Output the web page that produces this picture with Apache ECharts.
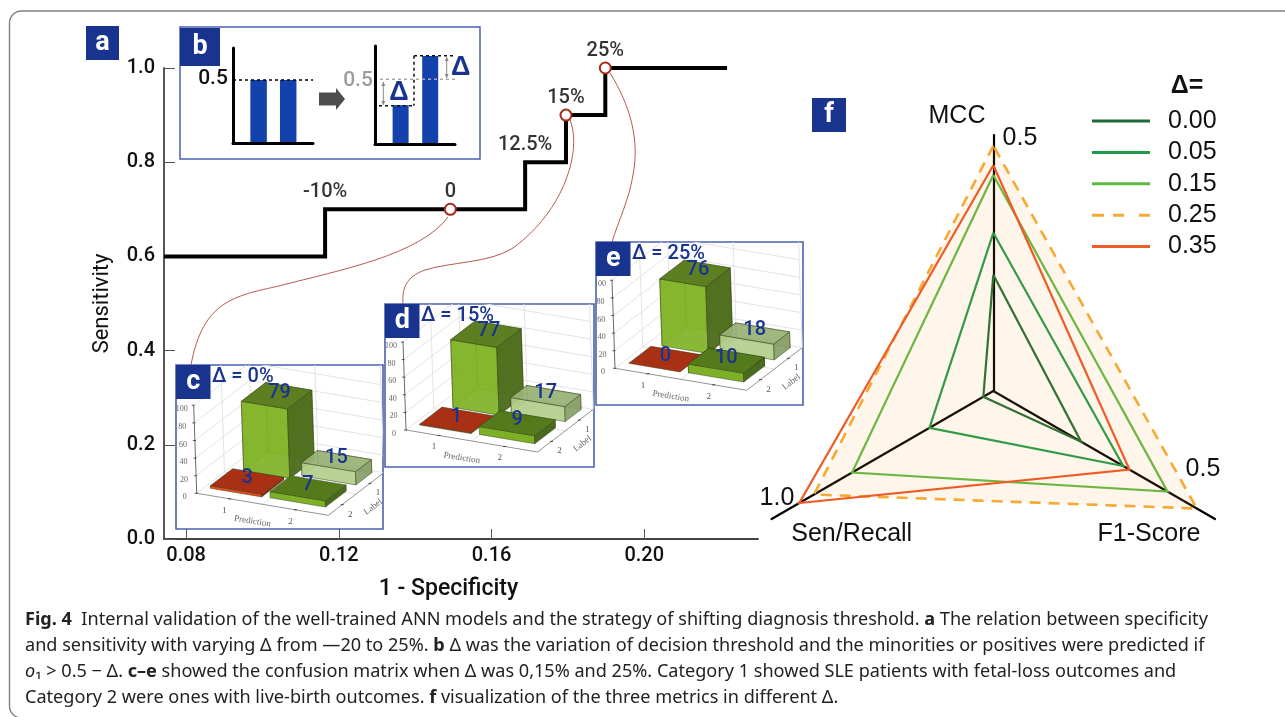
<!DOCTYPE html>
<html><head><meta charset="utf-8"><style>html,body{margin:0;padding:0;background:#fff}#c{width:1285px;height:717px}</style>
<script src="https://cdn.jsdelivr.net/npm/echarts@6/dist/echarts.min.js"></script></head><body><div id="c"></div>
<script>
// ---------- data ----------
const stepX = [0.0742, 0.1164, 0.1688, 0.1795, 0.1898, 0.2217];
const stepY = [0.6, 0.7, 0.8, 0.9, 1.0, 1.0];
const noteX = [0.1164, 0.1492, 0.1688, 0.1795, 0.1898];
const noteY = [0.7, 0.7, 0.8, 0.9, 1.0];
const noteText = ['-10%', '0', '12.5%', '15%', '25%'];
const markedX = [0.1492, 0.1795, 0.1898];
const markedY = [0.7, 0.9, 1.0];
const xTicks = [0.08, 0.12, 0.16, 0.20];
const barPositions = [0.32, 0.69];
const barsBefore = [0.5, 0.5];
const barsAfter = [0.3, 0.68];
const confusionC = [[1,1,79],[2,1,15],[1,2,3],[2,2,7]];
const confusionD = [[1,1,77],[2,1,17],[1,2,1],[2,2,9]];
const confusionE = [[1,1,76],[2,1,18],[1,2,0],[2,2,10]];
const radarAxes = ['MCC', 'Sen/Recall', 'F1-Score'];
const radarMax = [0.5, 1.0, 0.5];
const deltas = ['0.00', '0.05', '0.15', '0.25', '0.35'];
const radar000 = [0.227, 0.045, 0.198];
const radar005 = [0.309, 0.288, 0.293];
const radar015 = [0.422, 0.637, 0.393];
const radar025 = [0.479, 0.809, 0.459];
const radar035 = [0.441, 0.875, 0.307];

// ---------- style ----------
const NAVY = '#19348f', BORDER = '#4a62ad', INK = '#111';
const din = 'Roboto';
const barStyle = {
  big:  {front:'rgba(127,178,38,0.92)', side:'rgba(76,108,28,0.96)', top:'rgba(90,124,30,0.97)', inner:'rgba(150,195,50,0.55)', u:[0.22,0.92], v:[1.17,2.05]},
  pale: {front:'rgba(176,204,136,0.9)', side:'rgba(132,156,100,0.9)', top:'rgba(150,176,116,0.88)', inner:'rgba(170,196,130,0.5)', u:[1.03,1.85], v:[1.35,1.92]},
  red:  {front:'#ee4a1a', side:'#9c2c12', top:'#a83115', inner:'#a83115', u:[0.09,0.87], v:[0.28,1.08]},
  green:{front:'#7eb027', side:'#4b6b1c', top:'#557a1c', inner:'#557a1c', u:[0.99,1.83], v:[0.30,1.05]}
};
const panels = [
  {name:'c', x:176, y:365, w:207, h:164, ox:20.7, oy:128.3, title:'Δ = 0%',  data:confusionC},
  {name:'d', x:385, y:304, w:209, h:163, ox:21,   oy:126,   title:'Δ = 15%', data:confusionD},
  {name:'e', x:596, y:242, w:207, h:163, ox:19,   oy:126.3, title:'Δ = 25%', data:confusionE}
];
const EX=[65.8,11], EY=[27.8,-21.3], EZ=[-0.03,-0.88];

function render3d(panel){
  return function(params, api){
    const pt=(u,v,z)=>api.coord([panel.ox+u*EX[0]+v*EY[0]+z*EZ[0], panel.oy+u*EX[1]+v*EY[1]+z*EZ[1]]);
    const kids=[];
    const seg=(a,b,color,w)=>kids.push({type:'line',shape:{x1:a[0],y1:a[1],x2:b[0],y2:b[1]},style:{stroke:color,lineWidth:w}});
    const face=(pts,fill,stroke)=>kids.push({type:'polygon',shape:{points:pts},style:{fill,stroke:stroke||'rgba(40,55,15,0.75)',lineWidth:0.6}});
    const txt=(t,p,font,fill,opts)=>kids.push(Object.assign({type:'text',x:p[0],y:p[1],style:{text:t,font,fill,align:'center',verticalAlign:'middle'}},opts||{}));
    if(params.dataIndex===0){
      const G='#e3e3e3', top=130;
      for(let z=0;z<=100;z+=20){
        seg(pt(0,0,z),pt(0,2,z),G,1); seg(pt(0,2,z),pt(2,2,z),G,1);
      }
      seg(pt(0,2,0),pt(0,2,top),G,1); seg(pt(1,2,0),pt(1,2,top),G,1); seg(pt(2,2,0),pt(2,2,top),G,1); seg(pt(0,1,0),pt(0,1,top),G,1);
      seg(pt(1,0,0),pt(1,2,0),G,1); seg(pt(0,1,0),pt(2,1,0),G,1);
      seg(pt(0,0,0),pt(0,0,100),'#444',0.8);
      seg(pt(0,0,0),pt(2,0,0),'#777',0.8);
      seg(pt(2,0,0),pt(2,2,0),'#777',0.8);
      for(let z=0;z<=100;z+=20){
        const p=pt(0,0,z);
        seg([p[0]-2,p[1]],[p[0]+1,p[1]],'#333',0.8);
        txt(String(z),[p[0]-12,p[1]+4],'8px "Liberation Serif"','#666');
      }
      [[0.5,'1'],[1.5,'2']].forEach(([u,s])=>{
        const p=pt(u,0,0); seg([p[0]-1.5,p[1]],[p[0]+1.5,p[1]],'#333',0.9);
        txt(s,[p[0]-5,p[1]+11.5],'9px "Liberation Serif"','#555');
      });
      [[1.5,'1'],[0.5,'2']].forEach(([v,s])=>{
        const p=pt(2,v,0); seg([p[0]-1.5,p[1]],[p[0]+1.5,p[1]],'#333',0.9);
        txt(s,[p[0]+8,p[1]+9.5],'9px "Liberation Serif"','#555');
      });
      const pp=pt(1,0,0), lp=pt(2,1,0);
      txt('Prediction',[pp[0]-10,pp[1]+17],'9px "Liberation Serif"','#666',{rotation:-0.16});
      txt('Label',[lp[0]+17,lp[1]+13],'9px "Liberation Serif"','#666',{rotation:0.65});
    }
    const pred=api.value(0), label=api.value(1), count=api.value(2);
    const s = pred===1&&label===1?barStyle.big: pred===2&&label===1?barStyle.pale: pred===1?barStyle.red:barStyle.green;
    const [u0,u1]=s.u, [v0,v1]=s.v;
    // hidden faces seen through the translucent box
    if(count>=10){
      face([pt(u0,v1,0),pt(u1,v1,0),pt(u1,v1,count),pt(u0,v1,count)],s.inner);
      face([pt(u0,v0,0),pt(u0,v1,0),pt(u0,v1,count),pt(u0,v0,count)],s.inner);
    }
    if(count>0){
      face([pt(u0,v0,0),pt(u1,v0,0),pt(u1,v0,count),pt(u0,v0,count)],s.front);
      face([pt(u1,v0,0),pt(u1,v1,0),pt(u1,v1,count),pt(u1,v0,count)],s.side);
    }
    face([pt(u0,v0,count),pt(u1,v0,count),pt(u1,v1,count),pt(u0,v1,count)],s.top);
    const c=pt((u0+u1)/2,(v0+v1)/2,count);
    txt(String(count),[c[0]+(count>50?3:0),c[1]-3],'500 20px '+din,NAVY,{z2:50});
    return {type:'group',children:kids,
      clipPath:{type:'rect',shape:{x:panel.x,y:panel.y,width:panel.w,height:panel.h}}};
  };
}

// ---------- graphic helpers ----------
const gfx=[];
const rect=(x,y,w,h,fill,stroke,lw,z,r)=>gfx.push({type:'rect',z,shape:{x,y,width:w,height:h,r:r||0},style:{fill,stroke,lineWidth:lw||0}});
const text=(t,x,y,font,fill,z,align,extra)=>gfx.push(Object.assign({type:'text',z:z||20,x,y,style:{text:t,font,fill,align:align||'center',verticalAlign:'middle'}},extra||{}));
const gline=(x1,y1,x2,y2,stroke,lw,dash,z)=>gfx.push({type:'line',z:z||8,shape:{x1,y1,x2,y2},style:{stroke,lineWidth:lw,lineDash:dash||null}});
const curve=(x1,y1,cpx1,cpy1,cpx2,cpy2,x2,y2)=>gfx.push({type:'bezierCurve',z:-1,shape:{x1,y1,cpx1,cpy1,cpx2,cpy2,x2,y2},style:{fill:'none',stroke:'#b85a50',lineWidth:1}});

rect(9.5,11,1400,707,'none','#808080',1.4,-3,12);
const tab=(ch,x,y,w,h)=>{rect(x,y,w,h,NAVY,null,0,12);text(ch,x+w/2,y+h/2,'700 27px '+din,'#fff',13);};

curve(448,217,420,255,340,270,280,285.7);
curve(280,285.7,235,296,203,300,191,365);
curve(570,120,582,150,565,210,513,248);
curve(513,248,490,263,450,262,425,270);
curve(425,270,405,277,402,290,403,304);
curve(610,73,630,105,640,140,633,175);
curve(633,175,629,200,618,222,612,242);

// panel b
rect(180,27,300,132,'#fff',BORDER,1.5,-1);
tab('a',86,26,33,34);
tab('b',180,28,40,38);
text('0.5',213,79,'500 21px '+din,INK);
text('0.5',358,81,'500 21px '+din,'#9b9b9b');
gline(380,79.3,455,79.3,'#aaa',1.4,[3,3]);
gline(379,105.7,415,105.7,INK,1.5,[3,3]);
gline(414,55.7,455,55.7,INK,1.5,[3,3]);
gline(414,55.7,414,105.7,INK,1.5,[3,3]);
gline(383.3,82,383.3,105,'#888',1);
gline(446.7,57,446.7,78,'#888',1);
const head=(x,y,dir)=>gfx.push({type:'polygon',z:8,shape:{points:[[x,y],[x-2,y+dir*4],[x+2,y+dir*4]]},style:{fill:'#888'}});
head(383.3,82,1);head(383.3,105,-1);head(446.7,57,1);head(446.7,78,-1);
text('Δ',399,93,'700 27px "Liberation Sans"',NAVY);
text('Δ',460.7,68,'700 27px "Liberation Sans"',NAVY);
gfx.push({type:'polygon',z:8,shape:{points:[[319,92.5],[336,92.5],[336,88],[345,99],[336,110],[336,105.5],[319,105.5]]},style:{fill:'#4d4d4d'}});

// panels c,d,e
panels.forEach(p=>{
  rect(p.x,p.y,p.w,p.h,'#fff',BORDER,1.6,-1);
  tab(p.name,p.x,p.y,34.5,34);
  text(p.title,p.x+36,p.y+12,'500 20px '+din,NAVY,13,'left');
});

// panel f
tab('f',812,98,34,34);
text('MCC',957,116,'25px "Liberation Sans"',INK);
text('Sen/Recall',851.7,534,'25px "Liberation Sans"',INK);
text('F1-Score',1149,534,'25px "Liberation Sans"',INK);
text('0.5',1020,138,'25px "Liberation Sans"',INK);
text('0.5',1203,469,'25px "Liberation Sans"',INK);
text('1.0',777,498,'25px "Liberation Sans"',INK);
text('Δ=',1187,86,'700 25px "Liberation Sans"',INK);

// caption
const capRich={b:{fontFamily:'Noto Sans',fontWeight:'bold',fontSize:18.1,fill:'#222'},i:{fontFamily:'Noto Sans',fontStyle:'italic',fontSize:18.1,fill:'#222'}};
[
 ['{b|Fig. 4}  Internal validation of the well-trained ANN models and the strategy of shifting diagnosis threshold. {b|a} The relation between specificity',620],
 ['and sensitivity with varying Δ from —20 to 25%. {b|b} Δ was the variation of decision threshold and the minorities or positives were predicted if',646],
 ['{i|o}₁ > 0.5 − Δ. {b|c–e} showed the confusion matrix when Δ was 0,15% and 25%. Category 1 showed SLE patients with fetal-loss outcomes and',672],
 ['Category 2 were ones with live-birth outcomes. {b|f} visualization of the three metrics in different Δ.',698]
].forEach(([t,y])=>gfx.push({type:'text',z:20,x:25,y,style:{text:t,rich:capRich,font:'18.1px "Noto Sans"',fill:'#222',align:'left',verticalAlign:'middle'}}));

// ---------- option ----------
const miniAxis=(i,max)=>({type:'value',gridIndex:i,min:0,max,splitLine:{show:false},axisTick:{show:false},axisLabel:{show:false},axisLine:{show:true,lineStyle:{color:'#000',width:3}},z:3});
const grids=[
  {left:164,top:68,width:594,height:471},
  {left:233,top:48,width:80,height:95},
  {left:375,top:46,width:80,height:98}
];
const xAxes=[
  {type:'value',gridIndex:0,min:0.0742,max:0.2298,name:'1 - Specificity',nameLocation:'middle',nameGap:39,
   nameTextStyle:{fontFamily:din,fontSize:23,color:INK,padding:[0,25,0,0],fontWeight:500},
   splitLine:{show:false},axisLine:{onZero:false,lineStyle:{color:'#444',width:1.8}},
   axisTick:{customValues:xTicks,inside:true,length:10,lineStyle:{color:'#555',width:1}},
   axisLabel:{customValues:xTicks,margin:7,fontFamily:din,fontSize:20,fontWeight:500,color:INK,formatter:v=>Number(v).toFixed(2)}},
  miniAxis(1,1),miniAxis(2,1)
];
const yAxes=[
  {type:'value',gridIndex:0,min:0,max:1,interval:0.2,name:'Sensitivity',nameLocation:'middle',nameGap:51,
   nameTextStyle:{fontFamily:din,fontSize:22,color:INK},
   splitLine:{show:false},axisLine:{show:true,lineStyle:{color:'#444',width:1.8}},
   axisTick:{inside:true,length:11,lineStyle:{color:'#555',width:1}},
   axisLabel:{margin:9,padding:[8,0,0,0],fontFamily:din,fontSize:20,fontWeight:500,color:INK,formatter:v=>Number(v).toFixed(1)}},
  miniAxis(1,0.754),miniAxis(2,0.757)
];
const series=[
  {type:'line',xAxisIndex:0,yAxisIndex:0,z:3,step:'end',showSymbol:false,silent:true,
   data:stepX.map((x,i)=>[x,stepY[i]]),lineStyle:{color:'#000',width:4,join:'miter',cap:'butt'}},
  {type:'scatter',xAxisIndex:0,yAxisIndex:0,z:4,symbolSize:0,silent:true,
   data:noteX.map((x,i)=>[x,noteY[i],noteText[i]]),
   label:{show:true,position:'top',distance:7,lineHeight:20,fontFamily:din,fontSize:20,fontWeight:500,color:'#000',formatter:p=>p.value[2]}},
  {type:'scatter',xAxisIndex:0,yAxisIndex:0,z:5,symbol:'circle',symbolSize:11,silent:true,
   data:markedX.map((x,i)=>[x,markedY[i]]),itemStyle:{color:'#fff',borderColor:'#a52a17',borderWidth:2,opacity:1}},
  {type:'bar',xAxisIndex:1,yAxisIndex:1,barWidth:16.5,silent:true,data:barPositions.map((x,i)=>[x,barsBefore[i]]),itemStyle:{color:'#1342ad'},
   markLine:{silent:true,symbol:'none',label:{show:false},lineStyle:{color:'#000',type:[3,3],width:1.5},data:[{yAxis:0.5}]}},
  {type:'bar',xAxisIndex:2,yAxisIndex:2,barWidth:16,silent:true,data:barPositions.map((x,i)=>[x,barsAfter[i]]),itemStyle:{color:'#1342ad'}}
];
panels.forEach((p,i)=>{
  grids.push({left:p.x,top:p.y,width:p.w,height:p.h});
  xAxes.push({type:'value',show:false,gridIndex:3+i,min:0,max:p.w});
  yAxes.push({type:'value',show:false,gridIndex:3+i,min:0,max:p.h,inverse:true});
  series.push({type:'custom',coordinateSystem:'cartesian2d',xAxisIndex:3+i,yAxisIndex:3+i,z:5,clip:false,silent:true,
    data:p.data,encode:{x:0,y:1},renderItem:render3d(p)});
});
const radarColors=['#1f6b35','#1e9a48','#5fb843','#f7a934','#ef5b25'];
const radarValues=[radar000,radar005,radar015,radar025,radar035];
series.push({type:'radar',radarIndex:0,symbol:'none',silent:true,z:3,
  data:deltas.map((d,i)=>({name:d,value:radarValues[i],
    itemStyle:{color:radarColors[i]},
    lineStyle:{color:radarColors[i],width:i===3?2.6:2.2,type:i===3?[11,8]:'solid',join:'miter'},
    areaStyle:i===3?{color:'rgba(247,169,52,0.10)',opacity:1}:{opacity:0}}))});

const chart=echarts.init(document.getElementById('c'),null,{renderer:'canvas',width:1285,height:717});
chart.setOption({
  animation:false,backgroundColor:'#fff',
  grid:grids,xAxis:xAxes,yAxis:yAxes,
  radar:{center:[993.3,391],radius:256,startAngle:90,splitNumber:1,shape:'polygon',
    indicator:radarAxes.map((n,i)=>({name:n,min:0,max:radarMax[i]})),
    axisName:{show:false},axisTick:{show:false},axisLabel:{show:false},
    splitLine:{show:false},splitArea:{show:false},axisLine:{lineStyle:{color:'#000',width:2.2}}},
  legend:{orient:'vertical',left:1092,top:108.5,padding:0,itemWidth:58,itemHeight:3,itemGap:6.4,selectedMode:false,
    textStyle:{fontFamily:'Liberation Sans',fontSize:25,lineHeight:25,color:INK,padding:[0,0,0,13]},
    data:deltas.map((d,i)=>({name:d,icon:i===3?'path://M0 0h12v3H0zM21 0h11v3H21zM47 0h11v3H47z':'rect',itemStyle:{color:radarColors[i],opacity:1}}))},
  graphic:{elements:gfx},
  series
});
</script></body></html>
